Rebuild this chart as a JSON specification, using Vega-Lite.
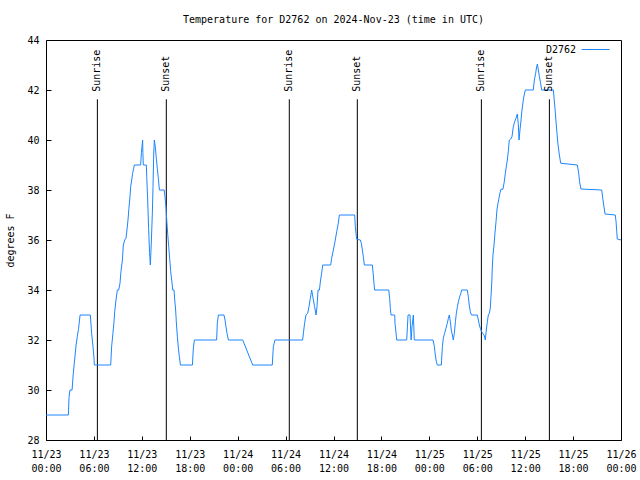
{
  "$schema": "https://vega.github.io/schema/vega-lite/v6.json",
  "width": 575,
  "height": 400,
  "autosize": {"type": "none"},
  "padding": {"left": 46, "top": 40, "right": 19, "bottom": 40},
  "background": "white",
  "title": {"text": "Temperature for D2762 on 2024-Nov-23 (time in UTC)", "font": "DejaVu Sans Mono", "fontSize": 10, "fontWeight": "normal", "color": "black", "anchor": "middle", "offset": 10},
  "config": {
    "view": {"stroke": "black", "strokeWidth": 1},
    "style": {"guide-label": {"lineBreak": "\n", "lineHeight": 14}},
    "axis": {"labelFont": "DejaVu Sans Mono", "labelFontSize": 10, "labelColor": "black", "titleFont": "DejaVu Sans Mono", "titleFontSize": 10, "titleFontWeight": "normal", "titleColor": "black", "domain": false, "grid": false, "tickColor": "black", "tickWidth": 1}
  },
  "datasets": {
    "temps": [
      {"t": "2024-11-23T00:00:00Z", "temp": 29},
      {"t": "2024-11-23T02:48:00Z", "temp": 29},
      {"t": "2024-11-23T02:53:00Z", "temp": 29.7},
      {"t": "2024-11-23T03:00:00Z", "temp": 30},
      {"t": "2024-11-23T03:16:00Z", "temp": 30},
      {"t": "2024-11-23T03:25:00Z", "temp": 30.67},
      {"t": "2024-11-23T03:35:00Z", "temp": 31.2},
      {"t": "2024-11-23T03:46:00Z", "temp": 31.8},
      {"t": "2024-11-23T03:55:00Z", "temp": 32.13},
      {"t": "2024-11-23T04:05:00Z", "temp": 32.47},
      {"t": "2024-11-23T04:16:00Z", "temp": 33},
      {"t": "2024-11-23T05:33:00Z", "temp": 33},
      {"t": "2024-11-23T05:43:00Z", "temp": 32.27},
      {"t": "2024-11-23T05:53:00Z", "temp": 31.73},
      {"t": "2024-11-23T06:01:00Z", "temp": 31.27},
      {"t": "2024-11-23T06:03:00Z", "temp": 31},
      {"t": "2024-11-23T08:06:00Z", "temp": 31},
      {"t": "2024-11-23T08:13:00Z", "temp": 31.73},
      {"t": "2024-11-23T08:23:00Z", "temp": 32.27},
      {"t": "2024-11-23T08:31:00Z", "temp": 32.73},
      {"t": "2024-11-23T08:36:00Z", "temp": 33.13},
      {"t": "2024-11-23T08:46:00Z", "temp": 33.6},
      {"t": "2024-11-23T08:56:00Z", "temp": 34},
      {"t": "2024-11-23T09:06:00Z", "temp": 34},
      {"t": "2024-11-23T09:16:00Z", "temp": 34.27},
      {"t": "2024-11-23T09:23:00Z", "temp": 34.73},
      {"t": "2024-11-23T09:34:00Z", "temp": 35.2},
      {"t": "2024-11-23T09:41:00Z", "temp": 35.8},
      {"t": "2024-11-23T09:51:00Z", "temp": 36},
      {"t": "2024-11-23T10:01:00Z", "temp": 36.07},
      {"t": "2024-11-23T10:08:00Z", "temp": 36.4},
      {"t": "2024-11-23T10:16:00Z", "temp": 36.8},
      {"t": "2024-11-23T10:23:00Z", "temp": 37.27},
      {"t": "2024-11-23T10:31:00Z", "temp": 37.73},
      {"t": "2024-11-23T10:36:00Z", "temp": 38.13},
      {"t": "2024-11-23T10:44:00Z", "temp": 38.4},
      {"t": "2024-11-23T10:51:00Z", "temp": 38.67},
      {"t": "2024-11-23T10:59:00Z", "temp": 38.87},
      {"t": "2024-11-23T11:04:00Z", "temp": 39},
      {"t": "2024-11-23T11:51:00Z", "temp": 39},
      {"t": "2024-11-23T11:57:00Z", "temp": 39.5},
      {"t": "2024-11-23T12:06:00Z", "temp": 40},
      {"t": "2024-11-23T12:08:00Z", "temp": 39.47},
      {"t": "2024-11-23T12:11:00Z", "temp": 39},
      {"t": "2024-11-23T12:34:00Z", "temp": 39},
      {"t": "2024-11-23T12:37:00Z", "temp": 38.5},
      {"t": "2024-11-23T12:44:00Z", "temp": 37.6},
      {"t": "2024-11-23T12:51:00Z", "temp": 36.47},
      {"t": "2024-11-23T12:58:00Z", "temp": 35.5},
      {"t": "2024-11-23T13:04:00Z", "temp": 35},
      {"t": "2024-11-23T13:11:00Z", "temp": 35.87},
      {"t": "2024-11-23T13:19:00Z", "temp": 37.07},
      {"t": "2024-11-23T13:24:00Z", "temp": 38.13},
      {"t": "2024-11-23T13:29:00Z", "temp": 39.4},
      {"t": "2024-11-23T13:34:00Z", "temp": 40},
      {"t": "2024-11-23T13:41:00Z", "temp": 39.73},
      {"t": "2024-11-23T13:49:00Z", "temp": 39.27},
      {"t": "2024-11-23T13:56:00Z", "temp": 38.87},
      {"t": "2024-11-23T14:04:00Z", "temp": 38.47},
      {"t": "2024-11-23T14:12:00Z", "temp": 38},
      {"t": "2024-11-23T14:48:00Z", "temp": 38},
      {"t": "2024-11-23T14:54:00Z", "temp": 37.73},
      {"t": "2024-11-23T15:02:00Z", "temp": 37.27},
      {"t": "2024-11-23T15:07:00Z", "temp": 36.8},
      {"t": "2024-11-23T15:14:00Z", "temp": 36.27},
      {"t": "2024-11-23T15:22:00Z", "temp": 35.73},
      {"t": "2024-11-23T15:29:00Z", "temp": 35.27},
      {"t": "2024-11-23T15:37:00Z", "temp": 34.73},
      {"t": "2024-11-23T15:47:00Z", "temp": 34.27},
      {"t": "2024-11-23T15:52:00Z", "temp": 34},
      {"t": "2024-11-23T16:02:00Z", "temp": 34},
      {"t": "2024-11-23T16:07:00Z", "temp": 33.6},
      {"t": "2024-11-23T16:14:00Z", "temp": 33.2},
      {"t": "2024-11-23T16:19:00Z", "temp": 32.73},
      {"t": "2024-11-23T16:27:00Z", "temp": 32.13},
      {"t": "2024-11-23T16:34:00Z", "temp": 31.71},
      {"t": "2024-11-23T16:42:00Z", "temp": 31.33},
      {"t": "2024-11-23T16:50:00Z", "temp": 31},
      {"t": "2024-11-23T18:20:00Z", "temp": 31},
      {"t": "2024-11-23T18:27:00Z", "temp": 31.67},
      {"t": "2024-11-23T18:35:00Z", "temp": 32},
      {"t": "2024-11-23T21:22:00Z", "temp": 32},
      {"t": "2024-11-23T21:27:00Z", "temp": 32.67},
      {"t": "2024-11-23T21:35:00Z", "temp": 33},
      {"t": "2024-11-23T22:17:00Z", "temp": 33},
      {"t": "2024-11-23T22:25:00Z", "temp": 32.8},
      {"t": "2024-11-23T22:32:00Z", "temp": 32.53},
      {"t": "2024-11-23T22:40:00Z", "temp": 32.27},
      {"t": "2024-11-23T22:50:00Z", "temp": 32},
      {"t": "2024-11-24T00:38:00Z", "temp": 32},
      {"t": "2024-11-24T01:53:00Z", "temp": 31},
      {"t": "2024-11-24T04:20:00Z", "temp": 31},
      {"t": "2024-11-24T04:28:00Z", "temp": 31.73},
      {"t": "2024-11-24T04:40:00Z", "temp": 32},
      {"t": "2024-11-24T08:08:00Z", "temp": 32},
      {"t": "2024-11-24T08:15:00Z", "temp": 32.33},
      {"t": "2024-11-24T08:23:00Z", "temp": 32.67},
      {"t": "2024-11-24T08:33:00Z", "temp": 33},
      {"t": "2024-11-24T08:46:00Z", "temp": 33.07},
      {"t": "2024-11-24T08:56:00Z", "temp": 33.33},
      {"t": "2024-11-24T09:06:00Z", "temp": 33.67},
      {"t": "2024-11-24T09:16:00Z", "temp": 34},
      {"t": "2024-11-24T09:29:00Z", "temp": 33.6},
      {"t": "2024-11-24T09:38:00Z", "temp": 33.33},
      {"t": "2024-11-24T09:49:00Z", "temp": 33},
      {"t": "2024-11-24T09:56:00Z", "temp": 33.33},
      {"t": "2024-11-24T10:04:00Z", "temp": 34},
      {"t": "2024-11-24T10:14:00Z", "temp": 34},
      {"t": "2024-11-24T10:23:00Z", "temp": 34.4},
      {"t": "2024-11-24T10:31:00Z", "temp": 34.67},
      {"t": "2024-11-24T10:39:00Z", "temp": 35},
      {"t": "2024-11-24T11:39:00Z", "temp": 35},
      {"t": "2024-11-24T11:46:00Z", "temp": 35.27},
      {"t": "2024-11-24T11:59:00Z", "temp": 35.6},
      {"t": "2024-11-24T12:11:00Z", "temp": 35.93},
      {"t": "2024-11-24T12:24:00Z", "temp": 36.33},
      {"t": "2024-11-24T12:36:00Z", "temp": 36.67},
      {"t": "2024-11-24T12:44:00Z", "temp": 37},
      {"t": "2024-11-24T14:39:00Z", "temp": 37},
      {"t": "2024-11-24T14:44:00Z", "temp": 36.53},
      {"t": "2024-11-24T14:49:00Z", "temp": 36.27},
      {"t": "2024-11-24T14:54:00Z", "temp": 36.03},
      {"t": "2024-11-24T15:22:00Z", "temp": 36},
      {"t": "2024-11-24T15:29:00Z", "temp": 35.87},
      {"t": "2024-11-24T15:37:00Z", "temp": 35.6},
      {"t": "2024-11-24T15:44:00Z", "temp": 35.33},
      {"t": "2024-11-24T15:52:00Z", "temp": 35},
      {"t": "2024-11-24T16:52:00Z", "temp": 35},
      {"t": "2024-11-24T16:59:00Z", "temp": 34.6},
      {"t": "2024-11-24T17:04:00Z", "temp": 34.27},
      {"t": "2024-11-24T17:09:00Z", "temp": 34},
      {"t": "2024-11-24T18:55:00Z", "temp": 34},
      {"t": "2024-11-24T19:02:00Z", "temp": 33.67},
      {"t": "2024-11-24T19:07:00Z", "temp": 33.27},
      {"t": "2024-11-24T19:12:00Z", "temp": 33},
      {"t": "2024-11-24T19:40:00Z", "temp": 33},
      {"t": "2024-11-24T19:42:00Z", "temp": 32.67},
      {"t": "2024-11-24T19:50:00Z", "temp": 32.27},
      {"t": "2024-11-24T19:55:00Z", "temp": 32},
      {"t": "2024-11-24T21:10:00Z", "temp": 32},
      {"t": "2024-11-24T21:20:00Z", "temp": 33},
      {"t": "2024-11-24T21:35:00Z", "temp": 33},
      {"t": "2024-11-24T21:43:00Z", "temp": 32},
      {"t": "2024-11-24T21:50:00Z", "temp": 32.53},
      {"t": "2024-11-24T22:00:00Z", "temp": 33},
      {"t": "2024-11-24T22:07:00Z", "temp": 32},
      {"t": "2024-11-25T00:28:00Z", "temp": 32},
      {"t": "2024-11-25T00:38:00Z", "temp": 31.73},
      {"t": "2024-11-25T00:45:00Z", "temp": 31.4},
      {"t": "2024-11-25T00:53:00Z", "temp": 31.13},
      {"t": "2024-11-25T01:00:00Z", "temp": 31},
      {"t": "2024-11-25T01:30:00Z", "temp": 31},
      {"t": "2024-11-25T01:38:00Z", "temp": 31.73},
      {"t": "2024-11-25T01:45:00Z", "temp": 32.07},
      {"t": "2024-11-25T01:55:00Z", "temp": 32.27},
      {"t": "2024-11-25T02:05:00Z", "temp": 32.47},
      {"t": "2024-11-25T02:15:00Z", "temp": 32.67},
      {"t": "2024-11-25T02:23:00Z", "temp": 32.87},
      {"t": "2024-11-25T02:30:00Z", "temp": 33},
      {"t": "2024-11-25T02:38:00Z", "temp": 32.73},
      {"t": "2024-11-25T02:45:00Z", "temp": 32.4},
      {"t": "2024-11-25T02:53:00Z", "temp": 32.2},
      {"t": "2024-11-25T03:00:00Z", "temp": 32},
      {"t": "2024-11-25T03:08:00Z", "temp": 32.27},
      {"t": "2024-11-25T03:16:00Z", "temp": 32.73},
      {"t": "2024-11-25T03:23:00Z", "temp": 33.07},
      {"t": "2024-11-25T03:31:00Z", "temp": 33.33},
      {"t": "2024-11-25T03:38:00Z", "temp": 33.53},
      {"t": "2024-11-25T03:48:00Z", "temp": 33.73},
      {"t": "2024-11-25T03:58:00Z", "temp": 33.89},
      {"t": "2024-11-25T04:03:00Z", "temp": 34},
      {"t": "2024-11-25T04:45:00Z", "temp": 34},
      {"t": "2024-11-25T04:53:00Z", "temp": 33.73},
      {"t": "2024-11-25T05:00:00Z", "temp": 33.4},
      {"t": "2024-11-25T05:08:00Z", "temp": 33.13},
      {"t": "2024-11-25T05:16:00Z", "temp": 33},
      {"t": "2024-11-25T06:01:00Z", "temp": 33},
      {"t": "2024-11-25T06:08:00Z", "temp": 32.8},
      {"t": "2024-11-25T06:16:00Z", "temp": 32.6},
      {"t": "2024-11-25T06:23:00Z", "temp": 32.47},
      {"t": "2024-11-25T06:33:00Z", "temp": 32.33},
      {"t": "2024-11-25T06:41:00Z", "temp": 32.27},
      {"t": "2024-11-25T06:51:00Z", "temp": 32.2},
      {"t": "2024-11-25T07:01:00Z", "temp": 32},
      {"t": "2024-11-25T07:08:00Z", "temp": 32.4},
      {"t": "2024-11-25T07:16:00Z", "temp": 32.73},
      {"t": "2024-11-25T07:23:00Z", "temp": 33},
      {"t": "2024-11-25T07:31:00Z", "temp": 33.07},
      {"t": "2024-11-25T07:38:00Z", "temp": 33.27},
      {"t": "2024-11-25T07:43:00Z", "temp": 33.73},
      {"t": "2024-11-25T07:49:00Z", "temp": 34.27},
      {"t": "2024-11-25T07:53:00Z", "temp": 34.87},
      {"t": "2024-11-25T07:58:00Z", "temp": 35.4},
      {"t": "2024-11-25T08:06:00Z", "temp": 35.8},
      {"t": "2024-11-25T08:13:00Z", "temp": 36.27},
      {"t": "2024-11-25T08:21:00Z", "temp": 36.73},
      {"t": "2024-11-25T08:28:00Z", "temp": 37.2},
      {"t": "2024-11-25T08:36:00Z", "temp": 37.47},
      {"t": "2024-11-25T08:43:00Z", "temp": 37.67},
      {"t": "2024-11-25T08:51:00Z", "temp": 37.89},
      {"t": "2024-11-25T08:58:00Z", "temp": 38.03},
      {"t": "2024-11-25T09:13:00Z", "temp": 38.03},
      {"t": "2024-11-25T09:23:00Z", "temp": 38.33},
      {"t": "2024-11-25T09:31:00Z", "temp": 38.67},
      {"t": "2024-11-25T09:38:00Z", "temp": 38.93},
      {"t": "2024-11-25T09:46:00Z", "temp": 39.2},
      {"t": "2024-11-25T09:53:00Z", "temp": 39.53},
      {"t": "2024-11-25T10:01:00Z", "temp": 40},
      {"t": "2024-11-25T10:11:00Z", "temp": 40.04},
      {"t": "2024-11-25T10:21:00Z", "temp": 40.13},
      {"t": "2024-11-25T10:31:00Z", "temp": 40.53},
      {"t": "2024-11-25T10:41:00Z", "temp": 40.73},
      {"t": "2024-11-25T10:51:00Z", "temp": 40.87},
      {"t": "2024-11-25T11:01:00Z", "temp": 41.04},
      {"t": "2024-11-25T11:08:00Z", "temp": 40.67},
      {"t": "2024-11-25T11:14:00Z", "temp": 40},
      {"t": "2024-11-25T11:21:00Z", "temp": 40.4},
      {"t": "2024-11-25T11:29:00Z", "temp": 40.8},
      {"t": "2024-11-25T11:36:00Z", "temp": 41.2},
      {"t": "2024-11-25T11:46:00Z", "temp": 41.6},
      {"t": "2024-11-25T11:53:00Z", "temp": 41.8},
      {"t": "2024-11-25T12:01:00Z", "temp": 42},
      {"t": "2024-11-25T13:01:00Z", "temp": 42},
      {"t": "2024-11-25T13:09:00Z", "temp": 42.4},
      {"t": "2024-11-25T13:19:00Z", "temp": 42.67},
      {"t": "2024-11-25T13:26:00Z", "temp": 42.93},
      {"t": "2024-11-25T13:32:00Z", "temp": 43.04},
      {"t": "2024-11-25T13:39:00Z", "temp": 42.8},
      {"t": "2024-11-25T13:47:00Z", "temp": 42.53},
      {"t": "2024-11-25T13:56:00Z", "temp": 42.27},
      {"t": "2024-11-25T14:04:00Z", "temp": 42},
      {"t": "2024-11-25T15:32:00Z", "temp": 42},
      {"t": "2024-11-25T15:37:00Z", "temp": 41.67},
      {"t": "2024-11-25T15:44:00Z", "temp": 41.27},
      {"t": "2024-11-25T15:52:00Z", "temp": 40.73},
      {"t": "2024-11-25T15:59:00Z", "temp": 40.27},
      {"t": "2024-11-25T16:07:00Z", "temp": 39.8},
      {"t": "2024-11-25T16:17:00Z", "temp": 39.4},
      {"t": "2024-11-25T16:27:00Z", "temp": 39.07},
      {"t": "2024-11-25T18:32:00Z", "temp": 39},
      {"t": "2024-11-25T18:42:00Z", "temp": 38.67},
      {"t": "2024-11-25T18:49:00Z", "temp": 38.33},
      {"t": "2024-11-25T18:59:00Z", "temp": 38.04},
      {"t": "2024-11-25T21:35:00Z", "temp": 38},
      {"t": "2024-11-25T21:43:00Z", "temp": 37.67},
      {"t": "2024-11-25T21:50:00Z", "temp": 37.4},
      {"t": "2024-11-25T22:00:00Z", "temp": 37.04},
      {"t": "2024-11-25T23:17:00Z", "temp": 37},
      {"t": "2024-11-25T23:23:00Z", "temp": 36.73},
      {"t": "2024-11-25T23:28:00Z", "temp": 36.33},
      {"t": "2024-11-25T23:32:00Z", "temp": 36.04},
      {"t": "2024-11-26T00:00:00Z", "temp": 36}
    ],
    "sun": [
      {"t": "2024-11-23T06:26:00Z", "event": "Sunrise"},
      {"t": "2024-11-23T15:04:00Z", "event": "Sunset"},
      {"t": "2024-11-24T06:28:00Z", "event": "Sunrise"},
      {"t": "2024-11-24T14:59:00Z", "event": "Sunset"},
      {"t": "2024-11-25T06:31:00Z", "event": "Sunrise"},
      {"t": "2024-11-25T15:02:00Z", "event": "Sunset"}
    ]
  },
  "layer": [
    {
      "data": {"name": "sun"},
      "mark": {"type": "rule", "color": "black", "strokeWidth": 1},
      "encoding": {
        "x": {"field": "t", "type": "temporal", "scale": {"type": "utc", "nice": false}},
        "y": {"datum": 41.63, "type": "quantitative", "scale": {"domain": [28, 44], "nice": false, "zero": false}},
        "y2": {"datum": 28}
      }
    },
    {
      "data": {"name": "temps"},
      "mark": {"type": "line", "strokeWidth": 1},
      "encoding": {
        "x": {"field": "t", "type": "temporal", "scale": {"type": "utc", "nice": false},
              "axis": {"title": null, "tickSize": -4, "tickCount": 12, "format": "%m/%d\n%H:%M", "labelPadding": 13, "labelFlush": false}},
        "y": {"field": "temp", "type": "quantitative",
              "axis": {"title": "degrees F", "tickSize": -5, "values": [28, 30, 32, 34, 36, 38, 40, 42, 44], "labelPadding": 12,
                       "titleX": -36, "titleY": 200, "titleAngle": 270, "titleBaseline": "middle", "titleAlign": "center"}},
        "color": {"datum": "D2762", "type": "nominal",
                  "scale": {"range": ["#1c86ff"]},
                  "legend": {"orient": "none", "legendX": 535, "legendY": -5, "title": null, "symbolType": "stroke", "symbolSize": 784, "symbolStrokeWidth": 1,
                             "labelAlign": "right", "labelOffset": -34, "labelFont": "DejaVu Sans Mono", "labelFontSize": 10, "labelColor": "black", "padding": 0}}
      }
    },
    {
      "data": {"name": "sun"},
      "mark": {"type": "text", "angle": 270, "align": "left", "baseline": "middle", "font": "DejaVu Sans Mono", "fontSize": 10, "color": "black"},
      "encoding": {
        "x": {"field": "t", "type": "temporal", "scale": {"type": "utc", "nice": false}},
        "y": {"datum": 41.93, "type": "quantitative"},
        "text": {"field": "event"}
      }
    }
  ]
}
